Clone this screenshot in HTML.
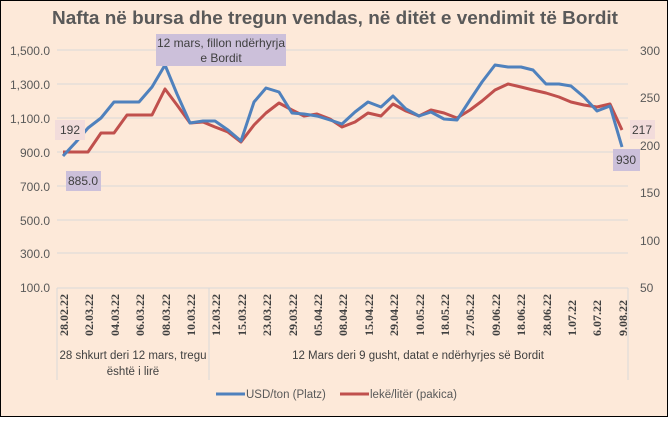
<!DOCTYPE html><html><head><style>body{margin:0}</style></head><body>
<svg width="668" height="417" xmlns="http://www.w3.org/2000/svg" font-family="Liberation Sans, sans-serif">
<rect x="0.5" y="0.5" width="667" height="416" fill="#fde9d9" stroke="#000"/>
<text x="52" y="24" font-size="18" font-weight="bold" fill="#595959" textLength="566" lengthAdjust="spacingAndGlyphs">Nafta në bursa dhe tregun vendas, në ditët e vendimit të Bordit</text>
<g stroke="#d9d9d9" stroke-width="1">
<line x1="57" x2="628" y1="50" y2="50"/><line x1="57" x2="628" y1="84" y2="84"/><line x1="57" x2="628" y1="118" y2="118"/><line x1="57" x2="628" y1="152" y2="152"/><line x1="57" x2="628" y1="186" y2="186"/><line x1="57" x2="628" y1="220" y2="220"/><line x1="57" x2="628" y1="253" y2="253"/><line x1="57" x2="628" y1="288" y2="288"/>
<line x1="57" x2="57" y1="288" y2="380"/><line x1="209" x2="209" y1="288" y2="380"/><line x1="628" x2="628" y1="288" y2="380"/>
</g>
<g font-size="12" fill="#595959" text-anchor="end">
<text x="50" y="55">1,500.0</text><text x="50" y="89">1,300.0</text><text x="50" y="123">1,100.0</text><text x="50" y="157">900.0</text><text x="50" y="191">700.0</text><text x="50" y="225">500.0</text><text x="50" y="258">300.0</text><text x="50" y="292">100.0</text>
</g>
<g font-size="12" fill="#595959">
<text x="640" y="55">300</text><text x="640" y="102">250</text><text x="640" y="150">200</text><text x="640" y="197">150</text><text x="640" y="245">100</text><text x="640" y="292">50</text>
</g>
<g font-size="12" font-weight="bold" fill="#404040" font-family="Liberation Serif, serif">
<text transform="translate(68,336) rotate(-90)">28.02.22</text>
<text transform="translate(93,336) rotate(-90)">02.03.22</text>
<text transform="translate(119,336) rotate(-90)">04.03.22</text>
<text transform="translate(144,336) rotate(-90)">06.03.22</text>
<text transform="translate(170,336) rotate(-90)">08.03.22</text>
<text transform="translate(195,336) rotate(-90)">10.03.22</text>
<text transform="translate(220,336) rotate(-90)">12.03.22</text>
<text transform="translate(246,336) rotate(-90)">15.03.22</text>
<text transform="translate(271,336) rotate(-90)">23.03.22</text>
<text transform="translate(297,336) rotate(-90)">29.03.22</text>
<text transform="translate(322,336) rotate(-90)">05.04.22</text>
<text transform="translate(347,336) rotate(-90)">08.04.22</text>
<text transform="translate(373,336) rotate(-90)">15.04.22</text>
<text transform="translate(398,336) rotate(-90)">29.04.22</text>
<text transform="translate(424,336) rotate(-90)">10.05.22</text>
<text transform="translate(449,336) rotate(-90)">18.05.22</text>
<text transform="translate(474,336) rotate(-90)">27.05.22</text>
<text transform="translate(500,336) rotate(-90)">09.06.22</text>
<text transform="translate(525,336) rotate(-90)">18.06.22</text>
<text transform="translate(551,336) rotate(-90)">28.06.22</text>
<text transform="translate(576,336) rotate(-90)">1.07.22</text>
<text transform="translate(601,336) rotate(-90)">6.07.22</text>
<text transform="translate(627,336) rotate(-90)">9.08.22</text>
</g>
<g font-size="11.5" fill="#404040" text-anchor="middle">
<text x="133" y="359">28 shkurt deri  12 mars, tregu</text>
<text x="133" y="375">është i lirë</text>
<text x="418" y="359">12 Mars deri 9 gusht, datat e ndërhyrjes së Bordit</text>
</g>
<polyline fill="none" stroke="#c0504d" stroke-width="3" stroke-linejoin="round" points="63,152 76,152 88,152 101,133 114,133 127,115 139,115 152,115 165,89 177,105 190,123 203,122 215,127 228,132 241,142 254,125 266,113 279,103 292,110 304,116 317,114 330,119 342,127 355,122 368,113 381,116 393,104 406,111 419,116 431,110 444,113 457,118 470,110 482,101 495,90 508,84 521,87 533,90 546,93 559,97 571,102 584,105 597,107 610,104 622,130"/>
<polyline fill="none" stroke="#4f81bd" stroke-width="3" stroke-linejoin="round" points="63,156 76,142 88,128 101,118 114,102 127,102 139,102 152,87 165,65 177,94 190,123 203,121 215,121 228,130 241,141 254,102 266,88 279,92 292,113 304,114 317,116 330,120 342,124 355,112 368,102 381,107 393,96 406,109 419,116 431,112 444,119 457,120 470,100 482,82 495,65 508,67 521,67 533,70 546,84 559,84 571,86 584,97 597,111 610,106 622,147"/>
<rect x="156" y="34" width="130" height="32" fill="#ccc0da"/>
<text x="221" y="47" font-size="12" fill="#404040" text-anchor="middle">12 mars, fillon ndërhyrja</text>
<text x="221" y="62" font-size="12" fill="#404040" text-anchor="middle">e Bordit</text>
<rect x="55" y="120" width="30" height="20" fill="#f2dcdb"/><text x="70" y="134" font-size="12" fill="#404040" text-anchor="middle">192</text>
<rect x="66" y="171" width="35" height="20" fill="#ccc0da"/><text x="83" y="185" font-size="12" fill="#404040" text-anchor="middle">885.0</text>
<rect x="630" y="120" width="25" height="19" fill="#f2dcdb"/><text x="642" y="134" font-size="12" fill="#404040" text-anchor="middle">217</text>
<rect x="613" y="149" width="27" height="22" fill="#ccc0da"/><text x="626" y="164" font-size="12" fill="#404040" text-anchor="middle">930</text>
<line x1="216" x2="245" y1="394" y2="394" stroke="#4f81bd" stroke-width="3"/>
<text x="246" y="398" font-size="11.5" fill="#595959">USD/ton (Platz)</text>
<line x1="340" x2="369" y1="394" y2="394" stroke="#c0504d" stroke-width="3"/>
<text x="370" y="398" font-size="11.5" fill="#595959">lekë/litër (pakica)</text>
</svg>
</body></html>
